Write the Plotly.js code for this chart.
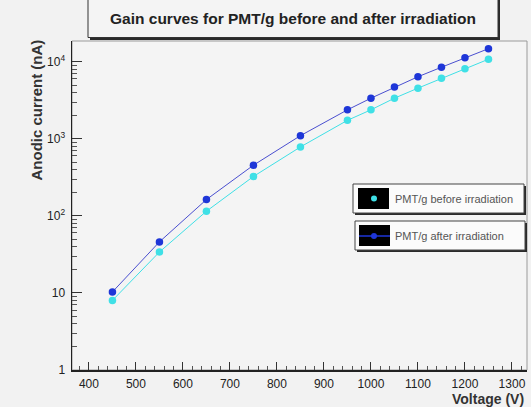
<!DOCTYPE html>
<html>
<head>
<meta charset="utf-8">
<script src="https://cdn.plot.ly/plotly-3.0.1.min.js"></script>
<style>
  html, body { margin: 0; padding: 0; background: #f2f2f2; }
  #chart { width: 531px; height: 407px; }
</style>
</head>
<body>
<div id="chart"></div>
<script>
// ---- data ----
var voltage = [450, 550, 650, 750, 850, 950, 1000, 1050, 1100, 1150, 1200, 1250];
var currentBefore = [8.0, 34, 115, 325, 785, 1740, 2380, 3370, 4550, 6100, 8100, 10800];
var currentAfter = [10.3, 46, 163, 455, 1100, 2380, 3370, 4700, 6400, 8500, 11300, 14800];
var seriesNames = ["PMT/g before irradiation", "PMT/g after irradiation"];
var chartTitle = "Gain curves for PMT/g before and after irradiation";
var xTitle = "Voltage (V)";
var yTitle = "Anodic current (nA)";
var yTickVals = [1, 10, 100, 1000, 10000];
var yTickText = ["1", "10", "10<sup>2</sup>", "10<sup>3</sup>", "10<sup>4</sup>"];

// ---- geometry helpers (pixel -> paper) ----
var L = 72, R = 527, T = 41, B = 370;
function px(x) { return (x - L) / (R - L); }
function py(y) { return (B - y) / (B - T); }

var minorY = [];
for (var k = 0; k < 4; k++) {
  for (var d = 2; d <= 9; d++) minorY.push(d * Math.pow(10, k));
}

var colBefore = "#3fe0e6";
var colAfter = "#1e36d8";
var font = "Liberation Sans, Arial, Helvetica, sans-serif";

var traces = [
  {
    x: voltage, y: currentBefore, name: seriesNames[0], type: "scatter", mode: "lines+markers",
    line: { color: colBefore, width: 1 },
    marker: { color: colBefore, size: 7.5, symbol: "circle" },
    showlegend: false
  },
  {
    x: voltage, y: currentAfter, name: seriesNames[1], type: "scatter", mode: "lines+markers",
    line: { color: "#4a4fd0", width: 1 },
    marker: { color: colAfter, size: 7.5, symbol: "circle" },
    showlegend: false
  }
];

var shapes = [
  // plot frame (top / right in gray)
  { type: "rect", xref: "paper", yref: "paper", x0: 0, x1: 1, y0: 0, y1: 1,
    line: { color: "#9a9a9a", width: 1 }, fillcolor: "rgba(0,0,0,0)", layer: "below" },
  // title box shadow + box
  { type: "rect", xref: "paper", yref: "paper", x0: px(90), x1: px(500), y0: py(40), y1: py(-6),
    line: { width: 0 }, fillcolor: "#2a2a2a" },
  { type: "rect", xref: "paper", yref: "paper", x0: px(88), x1: px(498), y0: py(37.5), y1: py(-6),
    line: { color: "#333", width: 1 }, fillcolor: "#f4f4f4" },
  // legend box 1
  { type: "rect", xref: "paper", yref: "paper", x0: px(355), x1: px(526), y0: py(215), y1: py(186),
    line: { width: 0 }, fillcolor: "#2a2a2a" },
  { type: "rect", xref: "paper", yref: "paper", x0: px(353), x1: px(524), y0: py(213), y1: py(184),
    line: { color: "#444", width: 1 }, fillcolor: "#fbfbfb" },
  { type: "rect", xref: "paper", yref: "paper", x0: px(358), x1: px(389), y0: py(209), y1: py(188),
    line: { width: 0 }, fillcolor: "#000" },
  { type: "circle", xref: "paper", yref: "paper", x0: px(371), x1: px(377), y0: py(201.5), y1: py(195.5),
    line: { width: 0 }, fillcolor: colBefore },
  // legend box 2
  { type: "rect", xref: "paper", yref: "paper", x0: px(357), x1: px(527), y0: py(252), y1: py(223),
    line: { width: 0 }, fillcolor: "#2a2a2a" },
  { type: "rect", xref: "paper", yref: "paper", x0: px(355), x1: px(525), y0: py(250), y1: py(221),
    line: { color: "#444", width: 1 }, fillcolor: "#fbfbfb" },
  { type: "rect", xref: "paper", yref: "paper", x0: px(359), x1: px(390), y0: py(246), y1: py(225),
    line: { width: 0 }, fillcolor: "#000" },
  { type: "line", xref: "paper", yref: "paper", x0: px(359), x1: px(390), y0: py(236), y1: py(236),
    line: { color: colAfter, width: 1.5 } },
  { type: "circle", xref: "paper", yref: "paper", x0: px(371), x1: px(377), y0: py(239), y1: py(233),
    line: { width: 0 }, fillcolor: colAfter }
];

var annotations = [
  { text: "<b>" + chartTitle + "</b>", xref: "paper", yref: "paper", x: px(293), y: py(19),
    showarrow: false, font: { family: font, size: 15.5, color: "#222" }, xanchor: "center", yanchor: "middle" },
  { text: seriesNames[0], xref: "paper", yref: "paper", x: px(393), y: py(198.5),
    showarrow: false, font: { family: font, size: 11, color: "#555" }, xanchor: "left", yanchor: "middle" },
  { text: seriesNames[1], xref: "paper", yref: "paper", x: px(393), y: py(236),
    showarrow: false, font: { family: font, size: 11, color: "#555" }, xanchor: "left", yanchor: "middle" },
  { text: "<b>" + xTitle + "</b>", xref: "paper", yref: "paper", x: px(526), y: py(399),
    showarrow: false, font: { family: font, size: 14, color: "#333" }, xanchor: "right", yanchor: "middle" },
  { text: "<b>" + yTitle + "</b>", xref: "paper", yref: "paper", x: px(36), y: py(38),
    showarrow: false, textangle: -90, font: { family: font, size: 15, color: "#333" },
    xanchor: "center", yanchor: "top" }
];

var layout = {
  width: 531, height: 407, autosize: false,
  margin: { l: L, r: 531 - R, t: T, b: 407 - B, pad: 0 },
  paper_bgcolor: "#f2f2f2",
  plot_bgcolor: "#f4f4f4",
  showlegend: false,
  font: { family: font, color: "#333" },
  xaxis: {
    range: [364, 1332], tick0: 0, dtick: 100,
    ticks: "inside", ticklen: 8, tickcolor: "#333", tickwidth: 1,
    minor: { dtick: 20, ticks: "inside", ticklen: 4, tickcolor: "#555", showgrid: false },
    showgrid: false, zeroline: false,
    showline: true, linecolor: "#222", linewidth: 1.5,
    tickfont: { family: font, size: 12, color: "#222" },
    ticklabelstandoff: 2
  },
  yaxis: {
    type: "log", range: [0, 4.27],
    tickmode: "array", tickvals: yTickVals, ticktext: yTickText,
    ticks: "inside", ticklen: 10, tickcolor: "#333", tickwidth: 1,
    minor: { tickmode: "array", tickvals: minorY, ticks: "inside", ticklen: 5, tickcolor: "#555", showgrid: false },
    showgrid: false, zeroline: false,
    showline: true, linecolor: "#222", linewidth: 1.5,
    tickfont: { family: font, size: 12, color: "#222" },
    ticklabelstandoff: 3
  },
  shapes: shapes,
  annotations: annotations
};

Plotly.newPlot("chart", traces, layout, { displayModeBar: false, staticPlot: true });
</script>
</body>
</html>
